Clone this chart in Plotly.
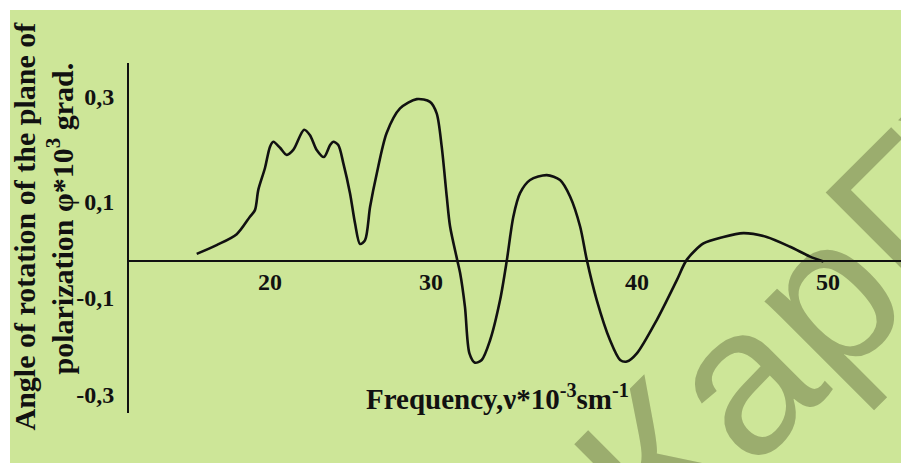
import plotly.graph_objects as go

# Frequency (x 10^3 sm^-1)
freq = [16.06, 17.13, 18.21, 18.92, 19.19, 19.37, 19.73, 20.00, 20.18, 20.54,
        20.90, 21.25, 21.83, 22.15, 22.51, 22.90, 23.23, 23.40, 23.67, 23.94,
        24.30, 24.57, 24.84, 25.11, 25.38, 25.74, 26.27, 26.99, 27.89, 28.60,
        28.96, 29.23, 29.50, 29.68, 30.07, 30.22, 30.48, 30.72, 31.02, 31.38,
        31.83, 32.37, 32.73, 33.08, 33.44, 33.98, 34.88, 35.59, 36.13, 36.67,
        37.03, 37.56, 38.28, 38.82, 39.18, 39.72, 40.79, 41.87, 42.40, 43.30,
        44.37, 45.45, 46.70, 47.96, 49.03, 49.75]
# Angle of rotation (x 10^3 grad)
angle = [0.013, 0.029, 0.049, 0.081, 0.093, 0.130, 0.170, 0.209, 0.218, 0.207,
         0.194, 0.203, 0.240, 0.230, 0.203, 0.190, 0.212, 0.218, 0.212, 0.179,
         0.124, 0.069, 0.031, 0.038, 0.099, 0.160, 0.234, 0.279, 0.296, 0.291,
         0.270, 0.209, 0.118, 0.063, 0.001, -0.022, -0.084, -0.169, -0.186, -0.181,
         -0.145, -0.071, 0.001, 0.081, 0.124, 0.148, 0.157, 0.148, 0.118, 0.063,
         0.002, -0.071, -0.145, -0.181, -0.184, -0.169, -0.108, -0.035, 0.002, 0.032,
         0.044, 0.051, 0.044, 0.026, 0.008, -0.001]

# Tick labels and where they sit on the (scanned) axes
x_tick_labels = ["20", "30", "40", "50"]
x_tick_pos = [20.0, 28.66, 39.73, 50.0]
y_tick_labels = ["0,3", "0,1", "-0,1", "-0,3"]
y_tick_pos = [0.300, 0.108, -0.067, -0.244]

# page is offset by the 8px body margin
OFF = 8
W, H = 909 - OFF, 463 - OFF
L, R, T, B = 129 - OFF, 0, 63 - OFF, 50
PW, PH = W - L - R, H - T - B


def px(x):
    return (x - OFF - L) / PW


def py(y):
    return (H - B - (y - OFF)) / PH


serif = "Liberation Serif"
ink = "#111111"
green = "#cde698"
olive = "#9bad6e"

fig = go.Figure()
fig.add_trace(go.Scatter(
    x=freq, y=angle, mode="lines",
    line=dict(color=ink, width=2.6, shape="spline", smoothing=0.8),
    hoverinfo="skip", showlegend=False,
))

wx, wy = 812, 280
fig.update_layout(
    width=W, height=H,
    margin=dict(l=L, r=R, t=T, b=B, pad=0),
    paper_bgcolor="white",
    plot_bgcolor="rgba(0,0,0,0)",
    showlegend=False,
    xaxis=dict(
        range=[12.42, 54.35], anchor="free", position=(413 - 261) / PH,
        showgrid=False, zeroline=False, showline=False, ticks="",
        tickmode="array", tickvals=x_tick_pos, ticktext=x_tick_labels,
        tickfont=dict(family=serif, size=24, color=ink, weight="bold"),
        ticklabelstandoff=4,
    ),
    yaxis=dict(
        range=[-0.278, 0.362],
        showgrid=False, zeroline=True, zerolinecolor=ink, zerolinewidth=2,
        showline=True, linecolor=ink, linewidth=2, ticks="",
        tickmode="array", tickvals=y_tick_pos, ticktext=y_tick_labels,
        tickfont=dict(family=serif, size=24, color=ink, weight="bold"),
        ticklabelstandoff=8,
    ),
    shapes=[
        dict(type="rect", xref="paper", yref="paper", layer="below",
             x0=px(10), x1=px(909), y0=py(463), y1=py(10),
             fillcolor=green, line=dict(width=0)),
        dict(type="rect", xref="paper", yref="paper", layer="below",
             x0=px(wx - 5), x1=px(wx + 5), y0=py(wy + 5), y1=py(wy - 5),
             fillcolor="rgba(0,0,0,0)", line=dict(width=0),
             label=dict(text="КарГУ", textangle=-45, textposition="middle center",
                        xanchor="center", yanchor="middle",
                        font=dict(family="Liberation Sans", size=210, color=olive))),
    ],
    annotations=[
        dict(text="Angle of rotation of the plane of", xref="paper", yref="paper",
             x=px(24), y=py(226.5), textangle=-90, showarrow=False,
             xanchor="center", yanchor="middle",
             font=dict(family=serif, size=30, color=ink, weight="bold")),
        dict(text="polarization φ*10<sup>3</sup> grad.", xref="paper", yref="paper",
             x=px(60), y=py(218.5), textangle=-90, showarrow=False,
             xanchor="center", yanchor="middle",
             font=dict(family=serif, size=30, color=ink, weight="bold")),
        dict(text="Frequency,ν*10<sup>-3</sup>sm<sup>-1</sup>", xref="paper", yref="paper",
             x=px(497), y=py(397), showarrow=False,
             xanchor="center", yanchor="middle",
             font=dict(family=serif, size=29, color=ink, weight="bold")),
    ],
)

fig.write_html("out.html")
